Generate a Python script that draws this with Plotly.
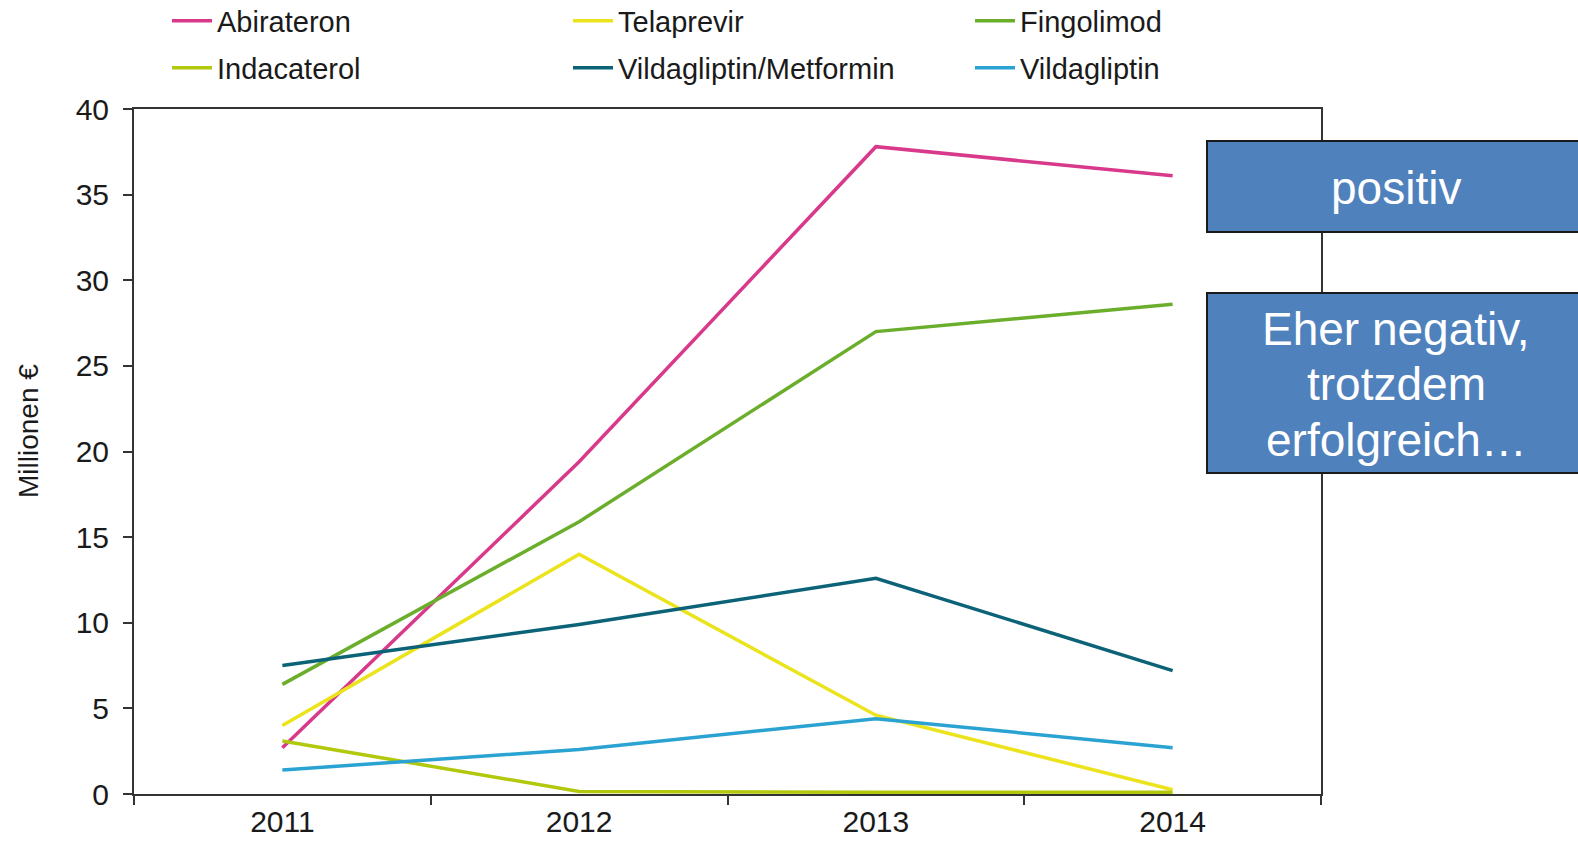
import plotly.graph_objects as go

years = ["2011", "2012", "2013", "2014"]
abirateron = [2.7, 19.4, 37.8, 36.1]
telaprevir = [4.0, 14.0, 4.6, 0.25]
fingolimod = [6.4, 15.9, 27.0, 28.6]
indacaterol = [3.1, 0.15, 0.1, 0.1]
vilda_met = [7.5, 9.9, 12.6, 7.2]
vildagliptin = [1.4, 2.6, 4.4, 2.7]

names = ["Abirateron", "Telaprevir", "Fingolimod",
         "Indacaterol", "Vildagliptin/Metformin", "Vildagliptin"]
values = [abirateron, telaprevir, fingolimod, indacaterol, vilda_met, vildagliptin]
colors = ["#D9398A", "#EBE31C", "#6AAE2C", "#B2C80C", "#0C6378", "#2BA3D2"]

FONT = "Liberation Sans, Arial, sans-serif"
TXT = "#1a1a1a"

W, H = 1578, 843
L, R, T, B = 134, 257, 109, 49
pw, ph = W - L - R, H - T - B

def px_x(x):
    return (x - L) / pw

def px_y(y):
    return (H - B - y) / ph

# legend placement: 3 columns x 2 rows (pixel positions of each entry)
leg_cols = [167, 568, 970]
leg_rows = [21, 68]

fig = go.Figure()
layout_legends = {}
for i, (name, vals, color) in enumerate(zip(names, values, colors)):
    key = "legend" if i == 0 else f"legend{i + 1}"
    fig.add_trace(go.Scatter(x=years, y=vals, name=name, mode="lines", showlegend=True,
                             line=dict(color=color, width=3.5), legend=key))
    layout_legends[key] = dict(
        x=px_x(leg_cols[i % 3]), y=px_y(leg_rows[i // 3]),
        xanchor="left", yanchor="middle", orientation="h",
        font=dict(family=FONT, size=29, color=TXT),
        bgcolor="rgba(0,0,0,0)", borderwidth=0, itemwidth=40)

fig.update_layout(
    width=W, height=H, showlegend=True,
    margin=dict(l=L, r=R, t=T, b=B, autoexpand=False),
    paper_bgcolor="white", plot_bgcolor="white",
    font=dict(family=FONT, size=29, color=TXT),
    xaxis=dict(type="category", range=[-0.5, 3.5], tickson="boundaries",
               ticks="outside", ticklen=9, tickwidth=2, tickcolor="#333",
               showline=True, linecolor="#333", linewidth=2, mirror=True,
               showgrid=False, tickfont=dict(size=30, family=FONT, color=TXT)),
    yaxis=dict(range=[0, 40], tickvals=[0, 5, 10, 15, 20, 25, 30, 35, 40],
               ticks="outside", ticklen=9, tickwidth=2, tickcolor="#333",
               showline=True, linecolor="#333", linewidth=2, mirror=True,
               showgrid=False, zeroline=False, ticklabelstandoff=8,
               tickfont=dict(size=30, family=FONT, color=TXT)),
    **layout_legends,
)

# y-axis title (placed like the reference, slightly above the axis centre)
fig.add_annotation(text="Millionen €", xref="paper", yref="paper", textangle=-90,
                   x=px_x(28), y=px_y(431), xanchor="center", yanchor="middle",
                   showarrow=False, font=dict(size=28, family=FONT, color=TXT))

box_fill = "#4F81BD"
boxes = [(141, 232), (293, 473)]
for y0, y1 in boxes:
    fig.add_shape(type="rect", xref="paper", yref="paper",
                  x0=px_x(1207), x1=px_x(1600), y0=px_y(y1), y1=px_y(y0),
                  fillcolor=box_fill, line=dict(color=TXT, width=2), layer="above")

labels = [("positiv", 188), ("Eher negativ,", 329), ("trotzdem", 384), ("erfolgreich…", 440)]
for txt, yc in labels:
    fig.add_annotation(text=txt, xref="paper", yref="paper", x=px_x(1396), y=px_y(yc),
                       xanchor="center", yanchor="middle", showarrow=False,
                       font=dict(family=FONT, size=46, color="white"))

fig.write_html("out.html", config={"displayModeBar": False},
               post_script="document.body.style.margin='0';")
